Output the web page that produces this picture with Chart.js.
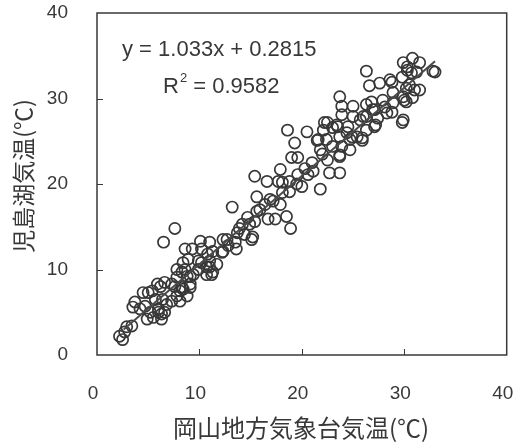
<!DOCTYPE html>
<html><head><meta charset="utf-8">
<script src="https://cdn.jsdelivr.net/npm/chart.js@4/dist/chart.umd.min.js"></script>
<style>html,body{margin:0;padding:0;background:#fff;}</style>
</head><body>
<canvas id="c" width="514" height="444" style="display:block;width:514px;height:444px"></canvas>
<script>
// 岡山地方気象台気温 (x) and 児島湖気温 (y)
const okayamaTemp = [
 2.2,2.5,2.9,3.4,2.7,3.5,3.7,4.2,4.7,4.5,5.0,5.4,5.9,6.2,6.6,6.4,5.7,6.0,6.3,6.6,
 5.2,5.5,4.9,6.0,6.3,7.8,8.8,8.1,7.3,7.8,8.3,8.8,9.4,9.1,8.3,9.9,10.7,11.3,10.2,8.4,
 11.0,11.7,8.1,7.3,6.8,7.6,8.4,9.1,10.2,10.8,11.0,12.2,12.7,13.5,14.4,15.2,13.7,11.2,9.1,6.5,
 7.6,8.6,9.3,10.1,11.3,12.3,12.3,13.6,14.2,14.9,15.1,15.4,15.6,16.4,16.9,17.4,16.7,15.9,8.9,9.9,
 11.0,10.7,8.6,7.8,13.2,18.6,20.5,19.3,19.0,19.6,15.4,16.6,17.9,17.7,18.8,19.6,20.6,21.6,21.8,22.2,
 23.0,22.5,23.7,22.7,23.7,21.8,21.1,20.0,18.8,18.1,17.2,15.6,23.5,24.5,24.7,23.9,25.4,25.0,23.9,18.5,
 18.9,17.9,18.1,23.9,25.0,25.9,27.2,29.8,26.0,26.9,28.3,28.9,30.2,26.3,23.7,27.6,28.6,29.8,30.8,29.9,
 31.5,32.8,31.2,30.3,30.5,31.5,28.9,29.9,27.9,26.8,26.3,26.6,28.8,30.3,33.0,30.7,30.2,31.0,30.8,30.0,
 27.1,28.1,28.8,29.9,27.4,26.3,25.7,23.4,22.5,22.1,26.3,27.1,25.9,24.9,22.4,23.7,24.4,24.7,23.0,23.7,
 21.5,20.3,19.5,21.0,22.0,12.8,13.9,14.7
];
const kojimaTemp = [
 2.2,1.8,3.3,3.4,2.7,5.6,6.2,5.4,5.7,7.3,7.3,7.5,8.3,8.0,8.5,6.5,6.5,5.4,4.8,5.0,
 5.0,4.4,4.2,5.0,4.2,6.9,6.9,7.5,8.3,9.1,9.7,9.2,9.4,8.3,7.9,10.0,10.3,9.7,10.8,10.8,
 11.0,10.6,6.3,6.3,5.9,8.0,7.7,7.9,12.4,11.8,13.2,12.0,13.5,13.2,14.1,13.8,14.3,9.4,9.2,13.2,
 14.8,12.4,12.4,13.3,12.1,13.5,12.1,12.4,15.3,15.3,13.5,15.6,16.8,17.6,18.2,15.9,15.9,17.0,11.2,11.0,
 10.3,9.4,10.0,10.0,17.3,26.3,26.1,24.8,23.1,23.1,20.9,20.3,21.7,20.3,20.3,21.1,21.1,25.2,24.0,27.2,
 26.6,22.8,23.2,21.3,21.3,19.4,21.5,19.7,19.1,19.0,18.0,18.5,26.7,26.7,25.2,24.4,25.5,27.9,28.1,16.2,
 14.8,17.6,20.2,29.1,29.1,25.1,26.9,27.2,27.9,28.7,28.3,29.5,29.6,33.2,30.2,31.8,32.2,32.5,34.7,34.2,
 34.2,33.2,33.1,33.3,31.6,31.0,30.7,30.2,29.8,29.6,29.3,31.5,31.9,33.7,33.1,33.0,31.2,31.0,30.1,29.8,
 28.7,29.0,28.4,27.5,27.7,27.9,27.5,26.9,27.2,26.3,26.3,26.7,25.4,25.5,25.2,25.5,26.0,24.0,24.4,23.4,
 25.1,21.8,20.0,22.5,23.5,12.8,14.8,16.1
];
// regression line end points (y = 1.033x + 0.2815)
const trendX = [2.6, 33.0];
const trendY = [2.97, 34.37];
const xTicks = [0, 10, 20, 30, 40];
const yTicks = [0, 10, 20, 30, 40];
const equationText = 'y = 1.033x + 0.2815';
const r2Label = 'R';
const r2Sup = '2';
const r2Value = ' = 0.9582';
const xTitle = '岡山地方気象台気温(℃)';
const yTitle = '児島湖気温(℃)';

const INK = '#383838';
const NUM_FONT = '"Liberation Sans", Arial, sans-serif';
const CJK_FONT = '"Noto Sans CJK JP", "Noto Sans CJK SC", sans-serif';

const decor = {
  id: 'decor',
  afterDraw(chart) {
    const {ctx, chartArea: a, scales: {x, y}} = chart;
    ctx.save();
    ctx.strokeStyle = INK;
    ctx.lineWidth = 1.5;
    ctx.strokeRect(a.left, a.top, a.right - a.left, a.bottom - a.top);
    ctx.beginPath();
    xTicks.slice(1, -1).forEach(v => {
      const px = Math.round(x.getPixelForValue(v)) + 0.5;
      ctx.moveTo(px, a.bottom); ctx.lineTo(px, a.bottom - 6);
    });
    yTicks.slice(1, -1).forEach(v => {
      const py = Math.round(y.getPixelForValue(v)) + 0.5;
      ctx.moveTo(a.left, py); ctx.lineTo(a.left + 6, py);
    });
    ctx.lineWidth = 1;
    ctx.stroke();

    ctx.fillStyle = INK;
    ctx.textBaseline = 'middle';
    ctx.textAlign = 'left';
    ctx.font = '22px ' + NUM_FONT;
    ctx.fillText(equationText, 122, 50);
    const rx = 163, ry = 87;
    ctx.fillText(r2Label, rx, ry);
    const rw = ctx.measureText(r2Label).width;
    ctx.font = '13px ' + NUM_FONT;
    ctx.fillText(r2Sup, rx + rw + 1, ry - 9);
    const sw = ctx.measureText(r2Sup).width;
    ctx.font = '22px ' + NUM_FONT;
    ctx.fillText(r2Value, rx + rw + sw + 1, ry);

    ctx.textAlign = 'center';
    ctx.font = '24px ' + CJK_FONT;
    ctx.fillText(xTitle, 301, 428);
    ctx.font = '23px ' + CJK_FONT;
    ctx.translate(23, 176);
    ctx.rotate(-Math.PI / 2);
    ctx.fillText(yTitle, 0, 0);
    ctx.restore();
  }
};

new Chart(document.getElementById('c'), {
  type: 'scatter',
  data: {
    datasets: [
      {
        label: 'data',
        data: okayamaTemp.map((v, i) => ({x: v, y: kojimaTemp[i]})),
        pointRadius: 5.6,
        pointBorderWidth: 1.7,
        borderColor: INK,
        pointBorderColor: INK,
        backgroundColor: 'rgba(0,0,0,0)',
        pointBackgroundColor: 'rgba(0,0,0,0)',
        order: 2
      },
      {
        label: 'trend',
        type: 'line',
        data: trendX.map((v, i) => ({x: v, y: trendY[i]})),
        showLine: true,
        pointRadius: 0,
        borderColor: '#4a4a4a',
        borderWidth: 2,
        order: 1
      }
    ]
  },
  options: {
    responsive: false,
    animation: false,
    devicePixelRatio: 1,
    layout: {padding: {top: 13, right: 7, left: 0, bottom: 0}},
    plugins: {legend: {display: false}, tooltip: {enabled: false}},
    scales: {
      x: {
        type: 'linear', min: 0, max: 40,
        afterBuildTicks: s => { s.ticks = xTicks.map(v => ({value: v})); },
        afterFit: s => { s.height = 89; s.paddingLeft = 0; s.paddingRight = 0; },
        grid: {display: false, drawTicks: false, tickLength: 0},
        border: {display: false},
        ticks: {padding: 27, labelOffset: -4, color: INK, font: {family: NUM_FONT, size: 19}, maxRotation: 0}
      },
      y: {
        type: 'linear', min: 0, max: 40,
        afterBuildTicks: s => { s.ticks = yTicks.map(v => ({value: v})); },
        afterFit: s => { s.width = 97; s.paddingTop = 0; s.paddingBottom = 0; },
        grid: {display: false, drawTicks: false, tickLength: 0},
        border: {display: false},
        ticks: {padding: 29, color: INK, font: {family: NUM_FONT, size: 19}}
      }
    }
  },
  plugins: [decor]
});
</script>
</body></html>
